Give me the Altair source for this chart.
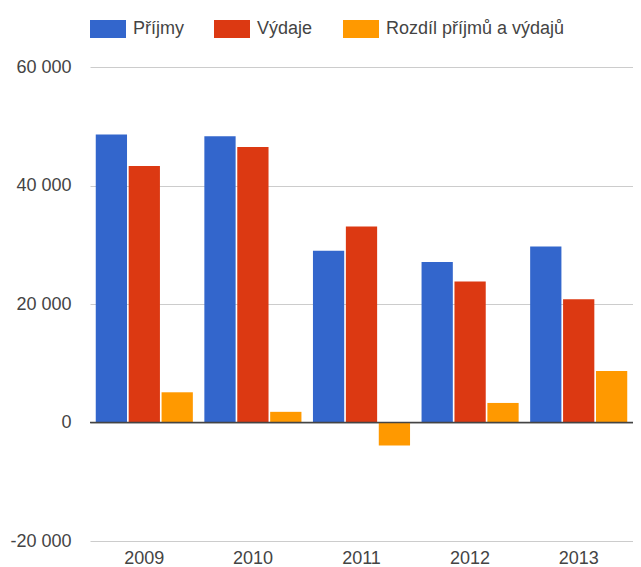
import altair as alt
import pandas as pd

years = ["2009", "2010", "2011", "2012", "2013"]
series = ["Příjmy", "Výdaje", "Rozdíl příjmů a výdajů"]
prijmy = [48600, 48300, 29000, 27100, 29700]
vydaje = [43300, 46500, 33100, 23800, 20800]
rozdil = [5100, 1800, -3900, 3300, 8700]
colors = ["#3366CC", "#DC3912", "#FF9900"]
y_ticks = [-20000, 0, 20000, 40000, 60000]

rows = []
for s, vals in zip(series, [prijmy, vydaje, rozdil]):
    for yr, v in zip(years, vals):
        rows.append({"rok": yr, "rada": s, "hodnota": v})
df = pd.DataFrame(rows)
base_df = pd.DataFrame({"v": [0]})

font = "Arial"
txt = "#444444"

bars = alt.Chart(df).mark_bar().encode(
    x=alt.X(
        "rok:N", sort=years,
        scale=alt.Scale(paddingInner=0.106, paddingOuter=0.053),
        axis=alt.Axis(title=None, labelAngle=0, domain=False, ticks=False,
                      labelPadding=8, labelFontSize=18, labelColor=txt,
                      labelFont=font, grid=False),
    ),
    xOffset=alt.XOffset("rada:N", sort=series,
                        scale=alt.Scale(paddingInner=0.05, paddingOuter=0)),
    y=alt.Y(
        "hodnota:Q",
        scale=alt.Scale(domain=[-20000, 60000], nice=False),
        axis=alt.Axis(title=None, values=y_ticks, domain=False, ticks=False,
                      grid=True, gridColor="#cccccc", gridWidth=1,
                      labelPadding=19, labelFontSize=18, labelColor=txt,
                      labelFont=font,
                      labelExpr="(datum.value < 0 ? '-' : '') + replace(format(abs(datum.value), ','), ',', ' ')"),
    ),
    color=alt.Color(
        "rada:N", sort=series,
        scale=alt.Scale(domain=series, range=colors),
        legend=alt.Legend(title=None, orient="top", direction="horizontal",
                          symbolType="M-1,-0.5H1V0.5H-1Z", symbolSize=1296,
                          symbolStrokeWidth=0, symbolOpacity=1,
                          labelFontSize=18, labelColor=txt, labelFont=font,
                          labelOffset=7, columnPadding=30, labelLimit=400,
                          offset=29, padding=0),
    ),
)

baseline = alt.Chart(base_df).mark_rule(color="#444444", strokeWidth=1.5).encode(
    y=alt.Y("v:Q")
)

chart = alt.layer(bars, baseline).properties(
    width=543, height=474,
    autosize=alt.AutoSizeParams(type="none"),
    padding={"left": 82, "top": 59, "right": 0, "bottom": 26},
).configure_view(stroke=None)

chart.save("out.html", embed_options={"renderer": "svg", "actions": False})
